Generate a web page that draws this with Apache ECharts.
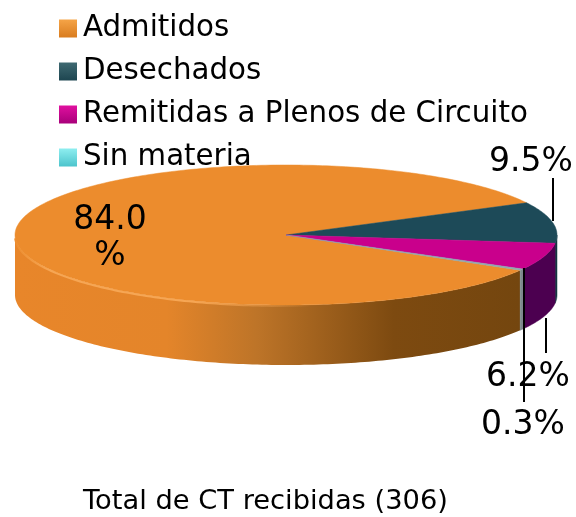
<!DOCTYPE html>
<html><head><meta charset="utf-8">
<style>html,body{margin:0;padding:0;background:#fff}#c{width:576px;height:517px}</style>
<script src="https://cdn.jsdelivr.net/npm/echarts@6/dist/echarts.min.js"></script>
</head><body><div id="c"></div>
<script>
const categories = ['Admitidos', 'Desechados', 'Remitidas a Plenos de Circuito', 'Sin materia'];
const values = [84.0, 9.5, 6.2, 0.3];
const titleText = 'Total de CT recibidas (306)';

const FONT = '"DejaVu Sans", Verdana, sans-serif';
const geo = { cx: 286, cy: 235, rx: 271, ry: 70, depth: 60, start: -30.2 };
const lg = (a, b, h) => ({ type: 'linear', x: 0, y: 0, x2: h ? 1 : 0, y2: h ? 0 : 1,
  colorStops: Array.isArray(a) ? a : [{ offset: 0, color: a }, { offset: 1, color: b }] });
const styles = [
  { top: '#ec8c2d', legend: lg('#f5a447', '#d97c1f'),
    wall: lg([{offset:0,color:'#e8862a'},{offset:.3,color:'#e4852a'},{offset:.48,color:'#bd7428'},{offset:.75,color:'#7d4a10'},{offset:1,color:'#74460f'}], null, true) },
  { top: '#1d4a58', legend: lg('#3f6a72', '#1d4550'), wall: '#133640' },
  { top: '#c9008c', legend: lg('#e0109f', '#a8007a'), wall: '#4c0050' },
  { top: '#8fa8ae', legend: lg('#8eeef0', '#4cc4cc'), wall: '#7c8a8c' }
];
const labelCfg = [
  { pos: [[110, 220], [110, 256]] },
  { pos: [[531, 162]], leader: [[553, 178], [553, 221]] },
  { pos: [[528, 377]], leader: [[546, 318], [546, 353]] },
  { pos: [[523, 425]], leader: [[524, 268], [524, 402]] }
];
const total = values.reduce((a, b) => a + b, 0);
const pt = (t, dy) => [geo.cx + geo.rx * Math.cos(t * Math.PI / 180),
                       geo.cy - geo.ry * Math.sin(t * Math.PI / 180) + (dy || 0)];
function arc(a, b, dy) {
  const out = [], n = Math.max(2, Math.ceil(Math.abs(a - b)));
  for (let i = 0; i <= n; i++) out.push(pt(a + (b - a) * i / n, dy));
  return out;
}
function render(params) {
  const i = params.seriesIndex;
  let a = geo.start;
  for (let k = 0; k < i; k++) a -= values[k] / total * 360;
  const b = a - values[i] / total * 360;
  const kids = [];
  const spans = [[a, b], [a + 360, b + 360]];
  // visible front side of the disc: angles in [-180, 0]
  spans.forEach(sp => {
    const from = Math.min(sp[0], 0), to = Math.max(sp[1], -180);
    if (from > to) {
      const u = arc(from, to, 0), d = arc(to, from, geo.depth);
      kids.push({ type: 'polygon', z2: 1, shape: { points: u.concat(d) },
        style: { fill: styles[i].wall, stroke: i === 0 ? null : styles[i].wall, lineWidth: .5 } });
    }
  });
  kids.push({ type: 'polygon', z2: 2, shape: { points: [[geo.cx, geo.cy]].concat(arc(a, b, 0)) },
    style: { fill: styles[i].top, stroke: styles[i].top, lineWidth: .5 } });
  if (i === 0) {
    kids.push({ type: 'polyline', z2: 3, shape: { points: arc(-85, -178, 1) },
      style: { fill: null, lineWidth: 2,
        stroke: lg([{offset:0,color:'#ec8c2d'},{offset:.12,color:'#f6a654'},{offset:.6,color:'#f6a654'},{offset:1,color:'rgba(246,166,84,0)'}], null, true) } });
  }
  const cfg = labelCfg[i];
  if (cfg.leader) kids.push({ type: 'polyline', z2: 4, shape: { points: cfg.leader },
    style: { fill: null, stroke: '#000', lineWidth: 2 } });
  const s = values[i].toFixed(1) + '%';
  const parts = cfg.pos.length > 1 ? [s.slice(0, -1), '%'] : [s];
  parts.forEach((p, j) => kids.push({ type: 'text', z2: 5, x: cfg.pos[j][0], y: cfg.pos[j][1],
    style: { text: p, font: '33px ' + FONT, fill: '#000', align: 'center', verticalAlign: 'middle' } }));
  return { type: 'group', children: kids };
}
const chart = echarts.init(document.getElementById('c'), null, { renderer: 'canvas' });
chart.setOption({
  animation: false,
  backgroundColor: '#fff',
  title: { text: titleText, left: 83, top: 488, padding: 0,
    textStyle: { fontFamily: FONT, fontSize: 27.3, fontWeight: 'normal', color: '#000' } },
  legend: { data: categories, orient: 'vertical', left: 59, top: 14, padding: 0, z: 1,
    icon: 'rect', itemWidth: 18, itemHeight: 18, itemGap: 14, selectedMode: false,
    textStyle: { fontFamily: FONT, fontSize: 29.3, lineHeight: 29, color: '#000', padding: [0, 0, 0, 1] } },
  series: categories.map((name, i) => ({
    type: 'custom', name, coordinateSystem: 'none', z: 5, silent: true,
    itemStyle: { color: styles[i].legend },
    renderItem: render, data: [[values[i]]]
  }))
});
</script></body></html>
